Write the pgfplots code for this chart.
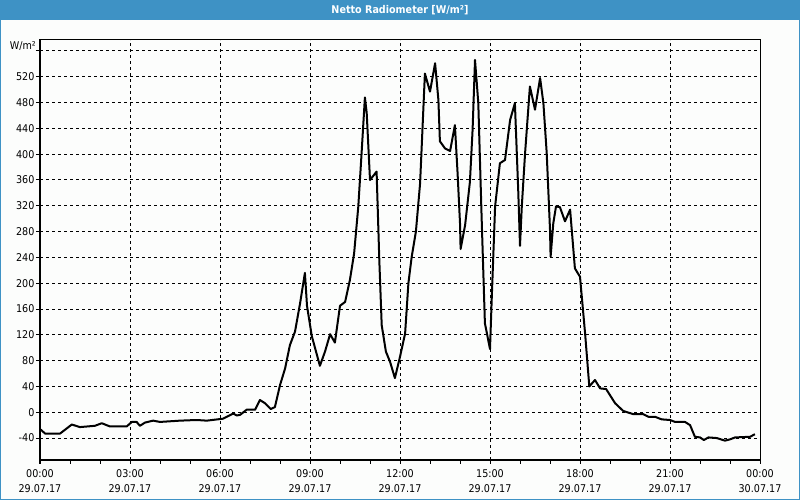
\documentclass[border=0pt]{standalone}
\usepackage{fontspec}
\setmainfont{DejaVu Sans Condensed}
\usepackage{pgfplots}
\pgfplotsset{compat=1.18}
\definecolor{barblue}{RGB}{62,146,197}
\definecolor{bg}{RGB}{252,253,252}
\pgfplotstableread{
h v
0.00 -26
0.17 -33
0.67 -33
1.06 -19
1.33 -23
1.83 -21
2.06 -17
2.33 -22
2.89 -22
3.06 -15
3.22 -15
3.33 -21
3.50 -16
3.77 -13
4.00 -15
4.67 -13
5.22 -12
5.56 -13
6.10 -10
6.44 -2
6.56 -5
6.67 -4
6.89 4
7.17 4
7.33 19
7.50 14
7.69 5
7.83 8
8.00 42
8.17 68
8.33 104
8.50 125
8.67 169
8.83 216
8.90 165
9.06 118
9.33 72
9.50 94
9.67 121
9.83 108
10.00 165
10.17 171
10.33 205
10.47 246
10.61 319
10.72 402
10.83 488
10.89 464
11.00 360
11.22 373
11.31 236
11.39 135
11.53 94
11.67 78
11.83 53
12.00 86
12.17 122
12.28 200
12.39 241
12.53 280
12.67 355
12.83 525
13.00 497
13.17 541
13.28 484
13.33 420
13.50 409
13.67 405
13.83 445
13.92 370
14.00 293
14.02 253
14.17 290
14.33 357
14.42 438
14.50 546
14.56 510
14.61 479
14.72 303
14.83 138
15.00 98
15.06 179
15.17 319
15.33 386
15.50 391
15.67 453
15.83 479
15.94 345
16.00 258
16.06 319
16.17 402
16.33 505
16.50 469
16.67 518
16.78 479
16.89 402
17.00 283
17.02 241
17.11 293
17.20 319
17.33 318
17.50 296
17.67 314
17.83 223
18.00 210
18.17 122
18.31 40
18.50 50
18.67 37
18.87 36
19.17 14
19.44 2
19.78 -3
20.11 -3
20.28 -7
20.50 -7
20.72 -11
21.00 -12
21.17 -15
21.50 -15
21.67 -20
21.83 -38
22.00 -39
22.13 -43
22.28 -39
22.56 -40
22.83 -44
23.00 -42
23.17 -39
23.67 -38
23.83 -34
}\radtable
\begin{document}
\begin{tikzpicture}
\fill[bg] (0,0) rectangle (600pt,375pt);
\fill[barblue] (0,360pt) rectangle (600pt,375pt);
\draw[barblue, line width=0.75pt] (0.375pt,360pt) -- (0.375pt,0.375pt) -- (599.625pt,0.375pt) -- (599.625pt,360pt);
\node[white, font=\bfseries\fontsize{8}{9.6}\selectfont] at (300pt,367.5pt) {Netto Radiometer [W/m²]};
\begin{axis}[
  at={(30pt,30pt)}, anchor=south west,
  scale only axis, width=540pt, height=315pt,
  xmin=0, xmax=24, ymin=-74, ymax=577,
  xtick={0,3,...,24},
  minor xtick={1,2,4,5,7,8,10,11,13,14,16,17,19,20,22,23},
  ytick={-40,0,40,...,560},
  yticklabels={-40,0,40,80,120,160,200,240,280,320,360,400,440,480,520,{}},
  xticklabels={{00:00\\29.07.17},{03:00\\29.07.17},{06:00\\29.07.17},{09:00\\29.07.17},{12:00\\29.07.17},{15:00\\29.07.17},{18:00\\29.07.17},{21:00\\29.07.17},{00:00\\30.07.17}},
  xticklabel style={align=center, font=\fontsize{8}{11.25}\selectfont, inner sep=1pt, yshift=-3pt},
  yticklabel style={font=\fontsize{8}{9.6}\selectfont, inner sep=1pt},
  /pgf/number format/assume math mode=true,
  tick pos=left,
  tick align=outside,
  major tick length=3pt, minor tick length=3pt,
  every tick/.style={black, line width=0.75pt},
  xmajorgrids, ymajorgrids,
  major grid style={black, line width=0.75pt, dash pattern=on 2.25pt off 2.25pt},
  axis line style={black, line width=0.75pt},
  clip=true,
]
\addplot[black, line width=1.5pt, line join=round, mark=none] table[x=h, y=v] {\radtable};
\end{axis}
\node[anchor=east, font=\fontsize{8}{9.6}\selectfont, inner sep=0pt] at (27pt,340.7pt) {W/m²};
\end{tikzpicture}
\end{document}
